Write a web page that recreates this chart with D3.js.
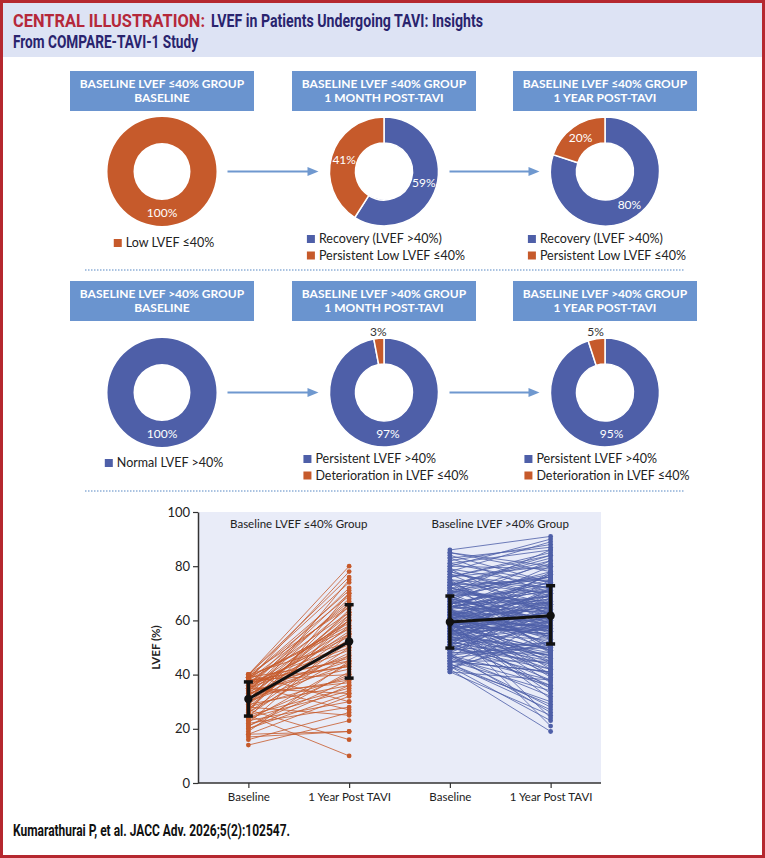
<!DOCTYPE html>
<html lang="en">
<head>
<meta charset="UTF-8">
<title>LVEF in Patients Undergoing TAVI</title>
<script src="https://d3js.org/d3.v7.min.js"></script>
<style>
  body { margin: 0; background: #fff; }
  svg { display: block; }
</style>
</head>
<body>
<div id="chart"></div>
<script>
// ---- donut panels: shares are [LVEF >40%, LVEF <=40%] in percent ----
const lowTitles = [
  ["BASELINE LVEF ≤40% GROUP", "BASELINE"],
  ["BASELINE LVEF ≤40% GROUP", "1 MONTH POST-TAVI"],
  ["BASELINE LVEF ≤40% GROUP", "1 YEAR POST-TAVI"]
];
const normalTitles = [
  ["BASELINE LVEF >40% GROUP", "BASELINE"],
  ["BASELINE LVEF >40% GROUP", "1 MONTH POST-TAVI"],
  ["BASELINE LVEF >40% GROUP", "1 YEAR POST-TAVI"]
];
const lowShares = [[0, 100], [59, 41], [80, 20]];
const normalShares = [[100, 0], [97, 3], [95, 5]];
const lowLegends = [
  ["Low LVEF ≤40%"],
  ["Recovery (LVEF >40%)", "Persistent Low LVEF ≤40%"],
  ["Recovery (LVEF >40%)", "Persistent Low LVEF ≤40%"]
];
const normalLegends = [
  ["Normal LVEF >40%"],
  ["Persistent LVEF >40%", "Deterioration in LVEF ≤40%"],
  ["Persistent LVEF >40%", "Deterioration in LVEF ≤40%"]
];

// ---- paired LVEF (%) per patient: baseline -> 1 year post TAVI ----
const lowBaseline = [
  14, 17, 18, 19, 20, 21, 22, 23, 24, 25,
  25, 26, 27, 28, 28, 29, 30, 30, 31, 32,
  32, 33, 34, 35, 35, 36, 36, 37, 38, 38,
  39, 39, 40, 40, 40, 22, 24, 26, 27, 29,
  30, 31, 33, 34, 35, 36, 37, 38, 39, 40,
  18, 20, 23, 25, 27, 28, 30, 32, 33, 34,
  35, 36, 37, 38, 39, 40, 16, 21, 24, 26,
  29, 31, 33, 35, 37, 39, 40, 38, 36, 34
];
const lowOneYear = [
  23, 19, 19, 45, 33, 38, 55, 30, 62, 10,
  35, 70, 16, 58, 25, 66, 44, 75, 52, 38,
  60, 47, 68, 55, 33, 72, 50, 63, 40, 78,
  57, 45, 65, 30, 80, 28, 40, 52, 60, 36,
  48, 56, 62, 42, 70, 54, 46, 66, 58, 74,
  32, 36, 44, 50, 64, 39, 53, 61, 45, 57,
  49, 67, 43, 59, 71, 52, 26, 41, 34, 47,
  55, 63, 37, 60, 51, 69, 76, 43, 27, 65
];
const normalBaseline = [
  41, 42, 43, 44, 45, 46, 47, 48, 49, 50,
  50, 51, 51, 52, 52, 53, 53, 54, 54, 55,
  55, 55, 56, 56, 56, 57, 57, 57, 58, 58,
  58, 59, 59, 59, 60, 60, 60, 60, 61, 61,
  61, 62, 62, 62, 63, 63, 63, 64, 64, 64,
  65, 65, 66, 66, 67, 67, 68, 68, 69, 70,
  70, 71, 72, 73, 74, 75, 76, 78, 80, 82,
  84, 86, 43, 45, 47, 49, 51, 53, 55, 57,
  59, 61, 63, 65, 67, 69, 71, 73, 75, 77,
  79, 81, 83, 85, 42, 46, 48, 52, 54, 56,
  58, 60, 62, 64, 66, 68, 70, 72, 74, 76,
  44, 50, 55, 58, 60, 62, 65, 68, 72, 78,
  47, 52, 57, 59, 61, 63, 66, 69, 71, 74,
  41, 48, 53, 56, 60, 64, 67, 70, 79, 85,
  45, 51, 54, 58, 62, 65, 69, 73, 77, 83,
  42, 44, 46, 48, 50, 52, 54, 56, 58, 60,
  62, 64, 66, 68, 70, 72, 74, 76, 78, 80,
  43, 47, 51, 55, 59, 63, 67, 71, 75, 81,
  45, 49, 53, 57, 61, 65, 69, 73, 60, 58
];
const normalOneYear = [
  38, 55, 30, 62, 45, 70, 52, 48, 66, 58,
  44, 72, 60, 35, 64, 57, 50, 68, 42, 61,
  75, 53, 47, 66, 59, 40, 63, 71, 55, 49,
  67, 58, 33, 62, 70, 54, 46, 77, 60, 52,
  65, 39, 73, 57, 68, 49, 61, 80, 56, 44,
  69, 63, 74, 51, 66, 58, 78, 62, 71, 67,
  55, 76, 64, 82, 60, 72, 85, 68, 79, 88,
  74, 91, 23, 41, 28, 52, 36, 47, 58, 43,
  31, 64, 54, 71, 48, 76, 59, 83, 66, 72,
  62, 86, 70, 78, 19, 36, 26, 45, 50, 57,
  63, 37, 69, 53, 74, 60, 81, 65, 57, 84,
  27, 42, 48, 56, 65, 59, 72, 50, 76, 89,
  32, 46, 61, 55, 67, 40, 73, 57, 64, 70,
  25, 50, 38, 63, 58, 69, 54, 77, 73, 80,
  34, 44, 60, 49, 66, 71, 56, 75, 62, 87,
  60, 29, 51, 65, 40, 70, 47, 78, 55, 24,
  68, 42, 75, 59, 86, 63, 48, 80, 69, 90,
  52, 38, 62, 72, 45, 57, 82, 66, 53, 74,
  41, 58, 67, 35, 77, 61, 50, 84, 56, 21
];

// ---- group summaries: mean and mean ± SD at baseline / 1 year ----
const lowMean = [31, 52.2];
const lowLower = [24.7, 38.7];
const lowUpper = [37.3, 65.8];
const normalMean = [59.4, 61.7];
const normalLower = [49.8, 51.3];
const normalUpper = [69, 72.8];

const timepoints = ["Baseline", "1 Year Post TAVI", "Baseline", "1 Year Post TAVI"];
const groupNames = ["Baseline LVEF ≤40% Group", "Baseline LVEF >40% Group"];

// ---- styles ----
const W = 765, H = 858;
const BLUE = "#4e5fa8", ORANGE = "#c65a2b", BOX = "#6a94cf", ARROW = "#6f98cf";
const panelFont = "Lato, 'Open Sans', sans-serif";
const headFont = "Roboto, 'Liberation Sans', sans-serif";
const shareColors = [BLUE, ORANGE];

const svg = d3.select("#chart").append("svg")
  .attr("width", W).attr("height", H)
  .attr("viewBox", [0, 0, W, H]);

// title band (condensed look via textLength)
svg.append("rect").attr("x", 0).attr("y", 0).attr("width", W).attr("height", 57).attr("fill", "#dde3f4");
function condensed(text, x0, yb, len, color, size) {
  return svg.append("text").attr("x", x0).attr("y", yb)
    .attr("textLength", len).attr("lengthAdjust", "spacingAndGlyphs")
    .style("font", `bold ${size}px ${headFont}`).attr("fill", color).text(text);
}
condensed("CENTRAL ILLUSTRATION:", 13, 27, 192, "#b5283a", 17.5);
condensed("LVEF in Patients Undergoing TAVI: Insights", 211, 27, 272, "#29246e", 17.5);
condensed("From COMPARE-TAVI-1 Study", 13, 48, 185, "#29246e", 17.5);

// ---- donut rows ----
const colX = [162, 384, 605];
const rows = [
  { titles: lowTitles, shares: lowShares, legends: lowLegends, boxTop: 71, cy: 171.5, legendY: 243 },
  { titles: normalTitles, shares: normalShares, legends: normalLegends, boxTop: 281, cy: 392.5, legendY: 463 }
];
const rIn = 28.5, rOut = 54.5;
const arc = d3.arc().innerRadius(rIn).outerRadius(rOut);
const pie = d3.pie().sort(null).value(d => d.v);

rows.forEach(row => {
  colX.forEach((cx, i) => {
    const g = svg.append("g");
    // header box
    g.append("rect").attr("x", cx - 92).attr("y", row.boxTop).attr("width", 184).attr("height", 40).attr("fill", BOX);
    row.titles[i].forEach((line, k) => {
      g.append("text").attr("x", cx).attr("y", row.boxTop + 17 + k * 13.5)
        .attr("text-anchor", "middle").attr("fill", "#fff")
        .style("font", `bold 12px ${panelFont}`).text(line);
    });

    // donut
    const slices = row.shares[i].map((v, k) => ({ v, color: shareColors[k] })).filter(d => d.v > 0);
    const dg = g.append("g").attr("transform", `translate(${cx},${row.cy})`);
    const arcs = pie(slices);
    dg.selectAll("path").data(arcs).join("path")
      .attr("d", arc).attr("fill", d => d.data.color)
      .attr("stroke", "#fff").attr("stroke-width", slices.length > 1 ? 1.5 : 0);
    dg.selectAll("text").data(arcs).join("text")
      .attr("transform", d => {
        if (d.data.v >= 10) return `translate(${arc.centroid(d)})`;
        const a = (d.startAngle + d.endAngle) / 2;
        return `translate(${Math.sin(a) * 61},${-Math.cos(a) * 61})`;
      })
      .attr("text-anchor", "middle").attr("dy", "0.35em")
      .attr("fill", d => d.data.v >= 10 ? "#fff" : "#333")
      .style("font-size", "12px").style("font-family", panelFont)
      .text(d => d.data.v + "%");

    // legend
    const items = row.legends[i].map((label, k) => ({
      label,
      color: row.legends[i].length === 1 ? slices[0].color : shareColors[k]
    }));
    const lg = g.append("g");
    const top = items.length === 1 ? row.legendY : row.legendY - 4;
    const texts = lg.selectAll("text").data(items).join("text")
      .attr("x", 12).attr("y", (d, k) => top + k * 16.5).attr("dy", "0.35em")
      .attr("fill", "#222").style("font", `12.5px ${panelFont}`).text(d => d.label);
    lg.selectAll("rect").data(items).join("rect")
      .attr("x", 0).attr("y", (d, k) => top + k * 16.5 - 4).attr("width", 8).attr("height", 8)
      .attr("fill", d => d.color);
    const w = 12 + d3.max(texts.nodes(), n => n.getComputedTextLength());
    lg.attr("transform", `translate(${cx - w / 2 + 2},0)`);

    // arrow to next panel
    if (i < colX.length - 1) {
      const x0 = cx + rOut + 11, x1 = colX[i + 1] - rOut - 11;
      g.append("line").attr("x1", x0).attr("x2", x1 - 8).attr("y1", row.cy).attr("y2", row.cy)
        .attr("stroke", ARROW).attr("stroke-width", 2);
      g.append("path").attr("d", `M${x1},${row.cy}L${x1 - 11},${row.cy - 4.5}L${x1 - 11},${row.cy + 4.5}Z`)
        .attr("fill", ARROW);
    }
  });
});

// dotted separators
[270, 491].forEach(y => {
  svg.append("line").attr("x1", 85).attr("x2", 684).attr("y1", y).attr("y2", y)
    .attr("stroke", "#8fb0d8").attr("stroke-width", 1.5).attr("stroke-dasharray", "1.5,1.5");
});

// ---- spaghetti plot ----
const plot = { left: 198, right: 601, top: 512, bottom: 783 };
const x = d3.scalePoint().domain(d3.range(timepoints.length)).range([plot.left, plot.right]).padding(0.5);
const y = d3.scaleLinear().domain([0, 100]).range([plot.bottom, plot.top]);

svg.append("rect").attr("x", plot.left).attr("y", plot.top)
  .attr("width", plot.right - plot.left).attr("height", plot.bottom - plot.top).attr("fill", "#e9ecf8");

const groups = [
  { base: lowBaseline, year: lowOneYear, color: ORANGE, mean: lowMean, lo: lowLower, hi: lowUpper, xi: [0, 1] },
  { base: normalBaseline, year: normalOneYear, color: BLUE, mean: normalMean, lo: normalLower, hi: normalUpper, xi: [2, 3] }
];

groups.forEach((grp, gi) => {
  const g = svg.append("g");
  const pairs = grp.base.map((b, k) => [b, grp.year[k]]);
  g.selectAll("line.p").data(pairs).join("line").attr("class", "p")
    .attr("x1", x(grp.xi[0])).attr("x2", x(grp.xi[1]))
    .attr("y1", d => y(d[0])).attr("y2", d => y(d[1]))
    .attr("stroke", grp.color).attr("stroke-width", 0.9).attr("stroke-opacity", 0.9);
  [0, 1].forEach(t => {
    g.selectAll(null).data(pairs).join("circle")
      .attr("cx", x(grp.xi[t])).attr("cy", d => y(d[t])).attr("r", 2.4)
      .attr("fill", grp.color);
  });

  // summary: mean ± SD
  const s = svg.append("g");
  s.append("line").attr("x1", x(grp.xi[0])).attr("x2", x(grp.xi[1]))
    .attr("y1", y(grp.mean[0])).attr("y2", y(grp.mean[1]))
    .attr("stroke", "#111").attr("stroke-width", 3);
  [0, 1].forEach(t => {
    const xx = x(grp.xi[t]);
    s.append("line").attr("x1", xx).attr("x2", xx).attr("y1", y(grp.lo[t])).attr("y2", y(grp.hi[t]))
      .attr("stroke", "#111").attr("stroke-width", 3.5);
    [grp.lo[t], grp.hi[t]].forEach(v => {
      s.append("line").attr("x1", xx - 4.5).attr("x2", xx + 4.5).attr("y1", y(v)).attr("y2", y(v))
        .attr("stroke", "#111").attr("stroke-width", 3.5);
    });
    s.append("circle").attr("cx", xx).attr("cy", y(grp.mean[t])).attr("r", 4.2).attr("fill", "#111");
  });

  svg.append("text").attr("x", (x(grp.xi[0]) + x(grp.xi[1])) / 2).attr("y", plot.top + 12)
    .attr("dy", "0.35em").attr("text-anchor", "middle").attr("fill", "#222")
    .style("font", `11.5px ${panelFont}`).text(groupNames[gi]);
});

// axes
const yAxis = svg.append("g").attr("transform", `translate(${plot.left},0)`)
  .call(d3.axisLeft(y).tickValues([0, 20, 40, 60, 80, 100]).tickSize(5).tickSizeOuter(0));
const xAxis = svg.append("g").attr("transform", `translate(0,${plot.bottom})`)
  .call(d3.axisBottom(x).tickFormat(i => timepoints[i]).tickSize(5).tickSizeOuter(0));
[yAxis, xAxis].forEach(a => {
  a.select(".domain").attr("stroke", "#333").attr("stroke-width", 1.5);
  a.selectAll(".tick line").attr("stroke", "#333").attr("stroke-width", 1.2);
  a.selectAll(".tick text").attr("fill", "#222").style("font-family", panelFont);
});
yAxis.selectAll(".tick text").style("font-size", "13px").attr("x", -8);
xAxis.selectAll(".tick text").style("font-size", "11.5px").attr("y", 10);
xAxis.select(".domain").attr("d", `M${plot.left},0H${plot.right}`);

svg.append("text").attr("transform", `translate(160,${y(50)}) rotate(-90)`)
  .attr("text-anchor", "middle").attr("fill", "#222")
  .style("font", `bold 11.5px ${panelFont}`).text("LVEF (%)");

// citation
condensed("Kumarathurai P, et al. JACC Adv. 2026;5(2):102547.", 13, 836, 277, "#111", 17);

// outer frame
svg.append("rect").attr("x", 1.5).attr("y", 1.5).attr("width", W - 3).attr("height", H - 3)
  .attr("fill", "none").attr("stroke", "#b5282f").attr("stroke-width", 3);
</script>
</body>
</html>
